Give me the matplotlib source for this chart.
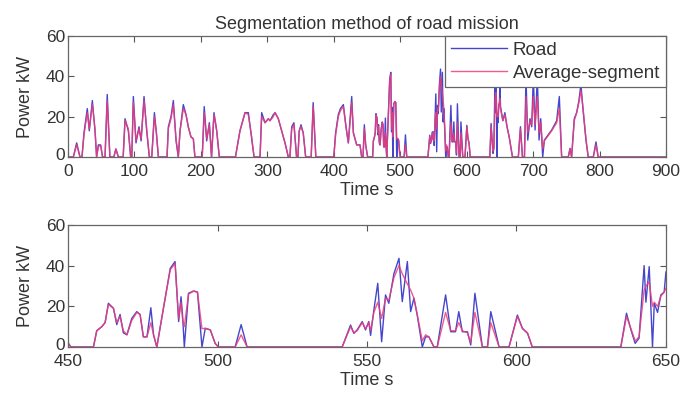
import matplotlib
matplotlib.use("Agg")
import matplotlib.pyplot as plt
import matplotlib.transforms as mtransforms

# ----------------------------
# data (vertices of the polylines)
# ----------------------------
time_s = [
    0, 8, 13, 18, 21, 24, 29, 32, 36.6, 40.6, 43, 45.6, 49, 52, 55.7, 59, 63,
    69, 72, 75.8, 83, 85.8, 90.8, 94.3, 96, 98.3, 102.3, 106.8, 110, 114.4,
    118.4, 122.4, 126, 130, 133, 136, 149, 151, 155, 158.5, 162.6, 166, 168.6,
    173.5, 177.6, 181, 185, 188.6, 191, 202, 205, 208.7, 212.7, 216, 219.7,
    223.8, 227.7, 252, 258.8, 266.4, 271.4, 276.4, 280, 289, 291.5, 296.5,
    301.5, 304, 309, 311.6, 316.5, 321.6, 326.6, 331.6, 334, 336.7, 340, 344,
    346, 348, 350.7, 354, 357.7, 366, 369, 373, 400, 402.8, 406.8, 410, 414.4,
    418.4, 421.9, 427, 429.5, 434.5, 439.5, 442, 444, 446, 448, 450, 451,
    458.5, 459.6, 461.3, 462.4, 463.5, 465.2, 466.3, 467.4, 468.5, 469.7,
    471.3, 473, 474.1, 475.2, 476.4, 477.7, 478.6, 479.7, 481.9, 484.2, 485.8,
    487, 487.8, 488.3, 488.9, 490.3, 492, 493.3, 494.8, 495.9, 497.6, 499.2,
    500.3, 505.9, 507.9, 509.9, 541.7, 544.5, 545.6, 546.7, 548.4, 549.5,
    550.6, 551.2, 552.3, 553.6, 554.9, 556.2, 557.3, 559, 560.7, 561.8, 563.5,
    564.6, 565.7, 566.8, 568.5, 569.6, 570.7, 572.4, 573.5, 576.3, 578, 579.6,
    580.7, 581.9, 583.6, 584.7, 586.1, 588.6, 590.3, 591.4, 594.2, 597.5,
    600.3, 602, 603.7, 605.3, 634.9, 636.8, 638.3, 639.7, 641, 642.7, 643.3,
    644.4, 645.5, 646.1, 647.2, 648.3, 649.4, 650, 651, 654.5, 657.6, 660.8,
    664, 669, 677.8, 681, 684, 687, 689.3, 692, 695.4, 697.9, 700.4, 703,
    706.4, 709, 711.5, 714.5, 717, 728, 735.5, 739.5, 743, 753, 755.6, 758,
    762, 765.6, 769, 772, 775.6, 779.6, 783, 790.6, 794.7, 798, 900,
]

road_kw = [
    0, 0, 7, 0, 0, 12, 24, 13, 28, 13, 0, 6, 6, 0, 0, 31, 0,
    0, 4, 0, 0, 19, 13, 0, 0, 30, 7, 15, 8, 30,
    13, 0, 0, 22, 12, 0, 0, 15, 20, 28, 8, 0, 13,
    26, 21, 15, 10, 9, 0, 0, 25, 8, 17, 0, 22,
    13, 0, 0, 13, 22, 22, 9, 0, 0, 22, 17,
    19, 18, 21, 22, 19, 13, 7, 0, 0, 15, 17, 0,
    0, 13, 16, 12, 0, 0, 27, 0, 0, 12, 21, 24, 26,
    15, 7, 30, 12, 6, 6, 0, 0, 16, 6, 2, 0,
    0, 8, 10, 12, 21.5, 19, 11, 16, 7, 6,
    14, 17.4, 16, 5, 5, 19.3, 6, 0, 19, 38.7, 42,
    12.5, 24.7, 15.7, 0, 26.4, 27.5, 27, 0, 9.2, 8.4, 1.8,
    0, 0, 11, 0, 0, 10.8, 6.7, 8.4, 12.5, 8.4,
    12.5, 5.7, 18.2, 31.3, 2.6, 25.6, 21.5, 36, 43.6, 22.3, 42,
    17.4, 24, 15.7, 0, 5, 5, 0, 0, 25.6, 7.5, 7.5,
    17.4, 7.5, 7.5, 1, 26.4, 0, 0, 17.4, 0, 0,
    15.7, 9.2, 6.7, 0, 0, 16.6, 8.4, 1.8, 4.3, 40, 22,
    39.5, 0, 21.5, 17, 25.6, 27, 37, 25, 18, 22, 15,
    10, 0, 0, 15, 0, 0, 40, 8.4, 19, 15, 40, 13.4,
    40, 8.4, 19, 0, 8.4, 13.4, 18, 30, 0, 0, 4.3, 0,
    19, 22, 28, 36, 22, 8.4, 0, 0, 7.5, 0, 0,
]

avg_kw = [
    0, 0, 6, 0, 0, 11, 22, 14, 26, 14, 0, 5, 6, 0, 0, 28, 0,
    0, 4, 0, 0, 18, 14, 0, 0, 27, 8, 14, 9, 28,
    14, 0, 0, 20, 12, 0, 0, 14, 19, 26, 9, 0, 13,
    24, 21, 15, 10, 9, 0, 0, 22, 9, 16, 0, 21,
    13, 0, 0, 13, 22, 21, 10, 0, 0, 20, 17,
    19, 18, 20, 22, 19, 13, 7, 0, 0, 14, 16, 0,
    0, 13, 15, 12, 0, 0, 25, 0, 0, 11, 20, 23, 25,
    15, 7, 27, 12, 6, 6, 0, 0, 14, 6, 2, 0,
    0, 8, 10, 12, 21, 19, 12, 15, 8, 6,
    13, 17, 16, 5, 5, 12, 6, 0, 19, 38, 41,
    14, 22, 14, 10, 26, 27.5, 27, 9, 9.2, 8.4, 1.8,
    0, 0, 6, 0, 0, 10, 7, 8, 12, 9,
    12, 8, 17, 22, 14, 24, 23, 34, 40, 36, 31,
    28, 24, 16, 3, 6, 5, 0, 0, 17, 8, 8,
    12, 8, 7, 2, 17, 0, 0, 12, 0, 0,
    15, 9, 7, 0, 0, 15, 9, 3, 5, 28, 30,
    32, 20, 22, 20, 25, 27, 29, 24, 18, 21, 15,
    10, 0, 0, 14, 0, 0, 30, 12, 18, 16, 30, 16,
    30, 12, 17, 4, 8, 13, 17, 24, 0, 0, 4, 0,
    18, 22, 27, 33, 23, 9, 0, 0, 6, 0, 0,
]

TXT = "#333333"
ROAD_COLOR = "#4646cc"
AVG_COLOR = "#f03c78"

plt.rcParams["font.family"] = ["Liberation Sans", "DejaVu Sans"]
plt.rcParams["font.size"] = 12


def style_axes(ax, xlim, xticks):
    ax.set_xlim(*xlim)
    ax.set_ylim(0, 60)
    ax.set_xticks(xticks)
    ax.set_yticks([0, 20, 40, 60])
    ax.tick_params(direction="in", length=4, width=0.8, top=True, right=True,
                   colors="#555555", labelcolor=TXT, labelsize=12.5)
    ax.tick_params(axis="x", pad=5)
    ax.tick_params(axis="y", pad=2)
    for sp in ax.spines.values():
        sp.set_color("#666666")
        sp.set_linewidth(0.9)
    ax.set_xlabel("Time s", color=TXT, fontsize=13, labelpad=2)
    ax.set_ylabel("Power kW", color=TXT, fontsize=13, labelpad=9)


fig = plt.figure(figsize=(6.81, 3.96), dpi=100)
ax1 = fig.add_axes([0.0999, 0.6035, 0.878, 0.3055])
ax2 = fig.add_axes([0.0999, 0.1237, 0.878, 0.3083])

for ax in (ax1, ax2):
    ax.plot(time_s, road_kw, color=ROAD_COLOR, lw=1.0, label="Road")
    ax.plot(time_s, avg_kw, color=AVG_COLOR, lw=1.0, alpha=0.85,
            label="Average-segment")

style_axes(ax1, (0, 900), range(0, 901, 100))
style_axes(ax2, (450, 650), range(450, 651, 50))

# lift the y "0" labels a touch so they clear the first x tick label
lift = mtransforms.ScaledTranslation(0, 3 / 100, fig.dpi_scale_trans)
for ax in (ax1, ax2):
    lab0 = ax.get_yticklabels()[0]
    lab0.set_transform(lab0.get_transform() + lift)

ax1.set_title("Segmentation method of road mission", color=TXT, fontsize=13,
              pad=5)

leg = ax1.legend(loc="upper right", borderaxespad=0, fancybox=False,
                 framealpha=1, edgecolor="#666666", fontsize=13.5,
                 handlelength=3.0, handletextpad=0.3, borderpad=0.3,
                 labelspacing=0.3)
leg.get_frame().set_linewidth(0.9)
for txt in leg.get_texts():
    txt.set_color(TXT)

fig.savefig("out.png", dpi=100)
